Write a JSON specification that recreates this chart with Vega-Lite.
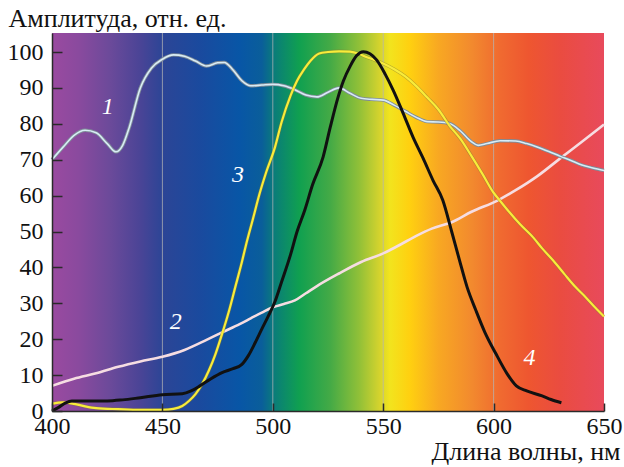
{
  "$schema": "https://vega.github.io/schema/vega-lite/v6.json",
  "width": 552,
  "height": 378,
  "autosize": {"type": "none"},
  "padding": {"left": 52, "top": 33, "right": 20, "bottom": 56},
  "background": "white",
  "config": {
    "view": {"stroke": null}
  },
  "datasets": {
    "curves": [
      {"series": "1", "nm": 400, "amp": 70}, {"series": "1", "nm": 405, "amp": 73.5}, {"series": "1", "nm": 410, "amp": 76.8}, {"series": "1", "nm": 415, "amp": 78.2}, {"series": "1", "nm": 420, "amp": 77.5}, {"series": "1", "nm": 425, "amp": 74.5}, {"series": "1", "nm": 429, "amp": 72.2}, {"series": "1", "nm": 432, "amp": 74}, {"series": "1", "nm": 435, "amp": 79}, {"series": "1", "nm": 440, "amp": 90}, {"series": "1", "nm": 445, "amp": 95.5}, {"series": "1", "nm": 450, "amp": 98}, {"series": "1", "nm": 455, "amp": 99.2}, {"series": "1", "nm": 460, "amp": 98.8}, {"series": "1", "nm": 465, "amp": 97.5}, {"series": "1", "nm": 470, "amp": 96.1}, {"series": "1", "nm": 475, "amp": 97}, {"series": "1", "nm": 478, "amp": 97.1}, {"series": "1", "nm": 482, "amp": 95}, {"series": "1", "nm": 486, "amp": 92}, {"series": "1", "nm": 490, "amp": 90.6}, {"series": "1", "nm": 495, "amp": 90.8}, {"series": "1", "nm": 500, "amp": 91}, {"series": "1", "nm": 505, "amp": 90.6}, {"series": "1", "nm": 510, "amp": 89.5}, {"series": "1", "nm": 515, "amp": 88}, {"series": "1", "nm": 520, "amp": 87.5}, {"series": "1", "nm": 525, "amp": 88.8}, {"series": "1", "nm": 530, "amp": 90}, {"series": "1", "nm": 535, "amp": 88.5}, {"series": "1", "nm": 540, "amp": 87.1}, {"series": "1", "nm": 545, "amp": 86.8}, {"series": "1", "nm": 550, "amp": 86.6}, {"series": "1", "nm": 555, "amp": 85.2}, {"series": "1", "nm": 560, "amp": 83.5}, {"series": "1", "nm": 565, "amp": 81.8}, {"series": "1", "nm": 570, "amp": 80.6}, {"series": "1", "nm": 575, "amp": 80.5}, {"series": "1", "nm": 580, "amp": 80.1}, {"series": "1", "nm": 585, "amp": 78}, {"series": "1", "nm": 590, "amp": 75}, {"series": "1", "nm": 593, "amp": 74}, {"series": "1", "nm": 597, "amp": 74.5}, {"series": "1", "nm": 603, "amp": 75.3}, {"series": "1", "nm": 610, "amp": 75.2}, {"series": "1", "nm": 615, "amp": 74.5}, {"series": "1", "nm": 620, "amp": 73.5}, {"series": "1", "nm": 625, "amp": 72.3}, {"series": "1", "nm": 630, "amp": 71}, {"series": "1", "nm": 635, "amp": 69.8}, {"series": "1", "nm": 640, "amp": 68.5}, {"series": "1", "nm": 645, "amp": 67.7}, {"series": "1", "nm": 650, "amp": 67},
      {"series": "2", "nm": 400, "amp": 7}, {"series": "2", "nm": 410, "amp": 9}, {"series": "2", "nm": 420, "amp": 10.5}, {"series": "2", "nm": 430, "amp": 12.3}, {"series": "2", "nm": 440, "amp": 13.8}, {"series": "2", "nm": 450, "amp": 15.1}, {"series": "2", "nm": 460, "amp": 17}, {"series": "2", "nm": 470, "amp": 19.8}, {"series": "2", "nm": 477, "amp": 21.9}, {"series": "2", "nm": 485, "amp": 24.2}, {"series": "2", "nm": 490, "amp": 25.8}, {"series": "2", "nm": 495, "amp": 27.4}, {"series": "2", "nm": 500, "amp": 28.9}, {"series": "2", "nm": 505, "amp": 29.8}, {"series": "2", "nm": 510, "amp": 30.8}, {"series": "2", "nm": 515, "amp": 32.8}, {"series": "2", "nm": 520, "amp": 34.8}, {"series": "2", "nm": 530, "amp": 38.3}, {"series": "2", "nm": 540, "amp": 41.5}, {"series": "2", "nm": 550, "amp": 43.9}, {"series": "2", "nm": 557, "amp": 46.1}, {"series": "2", "nm": 565, "amp": 48.8}, {"series": "2", "nm": 572, "amp": 50.8}, {"series": "2", "nm": 581, "amp": 52.6}, {"series": "2", "nm": 590, "amp": 55.5}, {"series": "2", "nm": 602, "amp": 58.7}, {"series": "2", "nm": 610, "amp": 61.5}, {"series": "2", "nm": 620, "amp": 65.5}, {"series": "2", "nm": 630, "amp": 70.3}, {"series": "2", "nm": 640, "amp": 75}, {"series": "2", "nm": 650, "amp": 79.8},
      {"series": "3", "nm": 400, "amp": 2}, {"series": "3", "nm": 405, "amp": 2.4}, {"series": "3", "nm": 410, "amp": 2}, {"series": "3", "nm": 415, "amp": 1.3}, {"series": "3", "nm": 420, "amp": 0.8}, {"series": "3", "nm": 430, "amp": 0.5}, {"series": "3", "nm": 440, "amp": 0.3}, {"series": "3", "nm": 450, "amp": 0.3}, {"series": "3", "nm": 455, "amp": 0.6}, {"series": "3", "nm": 459, "amp": 1.4}, {"series": "3", "nm": 462, "amp": 2.8}, {"series": "3", "nm": 465, "amp": 4.7}, {"series": "3", "nm": 468, "amp": 7.5}, {"series": "3", "nm": 471, "amp": 11.2}, {"series": "3", "nm": 474, "amp": 15.8}, {"series": "3", "nm": 477, "amp": 21.4}, {"series": "3", "nm": 480, "amp": 27.5}, {"series": "3", "nm": 483, "amp": 34.5}, {"series": "3", "nm": 486, "amp": 41.5}, {"series": "3", "nm": 488, "amp": 46.6}, {"series": "3", "nm": 491, "amp": 53.5}, {"series": "3", "nm": 494, "amp": 60.5}, {"series": "3", "nm": 497, "amp": 66.5}, {"series": "3", "nm": 501, "amp": 73.5}, {"series": "3", "nm": 504, "amp": 80.5}, {"series": "3", "nm": 508, "amp": 87.8}, {"series": "3", "nm": 511, "amp": 92}, {"series": "3", "nm": 514, "amp": 95}, {"series": "3", "nm": 517, "amp": 97.5}, {"series": "3", "nm": 521, "amp": 99.6}, {"series": "3", "nm": 525, "amp": 100}, {"series": "3", "nm": 530, "amp": 100.2}, {"series": "3", "nm": 535, "amp": 100.1}, {"series": "3", "nm": 539, "amp": 99.5}, {"series": "3", "nm": 542, "amp": 98.7}, {"series": "3", "nm": 546, "amp": 97.8}, {"series": "3", "nm": 550, "amp": 96.8}, {"series": "3", "nm": 555, "amp": 95.2}, {"series": "3", "nm": 560, "amp": 93.2}, {"series": "3", "nm": 565, "amp": 90.5}, {"series": "3", "nm": 570, "amp": 87.3}, {"series": "3", "nm": 575, "amp": 84}, {"series": "3", "nm": 580, "amp": 79.5}, {"series": "3", "nm": 585, "amp": 75.8}, {"series": "3", "nm": 590, "amp": 71}, {"series": "3", "nm": 595, "amp": 66}, {"series": "3", "nm": 600, "amp": 60.8}, {"series": "3", "nm": 603, "amp": 58.5}, {"series": "3", "nm": 607, "amp": 55.5}, {"series": "3", "nm": 612, "amp": 52}, {"series": "3", "nm": 618, "amp": 48.3}, {"series": "3", "nm": 622, "amp": 45.3}, {"series": "3", "nm": 627, "amp": 41.9}, {"series": "3", "nm": 632, "amp": 38.2}, {"series": "3", "nm": 637, "amp": 34.6}, {"series": "3", "nm": 642, "amp": 31.5}, {"series": "3", "nm": 646, "amp": 28.8}, {"series": "3", "nm": 650, "amp": 26.3},
      {"series": "4", "nm": 400, "amp": 0}, {"series": "4", "nm": 403, "amp": 1}, {"series": "4", "nm": 406, "amp": 2.2}, {"series": "4", "nm": 409, "amp": 2.8}, {"series": "4", "nm": 415, "amp": 2.8}, {"series": "4", "nm": 425, "amp": 2.8}, {"series": "4", "nm": 432, "amp": 3.1}, {"series": "4", "nm": 440, "amp": 3.7}, {"series": "4", "nm": 450, "amp": 4.5}, {"series": "4", "nm": 459, "amp": 4.8}, {"series": "4", "nm": 463, "amp": 5.6}, {"series": "4", "nm": 467, "amp": 7}, {"series": "4", "nm": 472, "amp": 9}, {"series": "4", "nm": 477, "amp": 10.7}, {"series": "4", "nm": 482, "amp": 11.8}, {"series": "4", "nm": 486, "amp": 13}, {"series": "4", "nm": 489, "amp": 15.5}, {"series": "4", "nm": 492, "amp": 19}, {"series": "4", "nm": 495, "amp": 22.8}, {"series": "4", "nm": 498, "amp": 26.5}, {"series": "4", "nm": 501, "amp": 30.5}, {"series": "4", "nm": 504, "amp": 36}, {"series": "4", "nm": 508, "amp": 43.5}, {"series": "4", "nm": 511, "amp": 50}, {"series": "4", "nm": 514.5, "amp": 56}, {"series": "4", "nm": 518, "amp": 63}, {"series": "4", "nm": 522.8, "amp": 70.8}, {"series": "4", "nm": 526, "amp": 79}, {"series": "4", "nm": 529.6, "amp": 87.5}, {"series": "4", "nm": 532, "amp": 92}, {"series": "4", "nm": 535, "amp": 96}, {"series": "4", "nm": 538, "amp": 99}, {"series": "4", "nm": 541, "amp": 100.1}, {"series": "4", "nm": 544, "amp": 99.5}, {"series": "4", "nm": 547, "amp": 97.8}, {"series": "4", "nm": 551, "amp": 93.7}, {"series": "4", "nm": 554.5, "amp": 89.4}, {"series": "4", "nm": 559, "amp": 83}, {"series": "4", "nm": 563.5, "amp": 76.3}, {"series": "4", "nm": 568, "amp": 70.5}, {"series": "4", "nm": 572.6, "amp": 64.2}, {"series": "4", "nm": 577, "amp": 58.7}, {"series": "4", "nm": 581, "amp": 50}, {"series": "4", "nm": 584.6, "amp": 41.9}, {"series": "4", "nm": 588, "amp": 34.5}, {"series": "4", "nm": 592, "amp": 28}, {"series": "4", "nm": 596, "amp": 22}, {"series": "4", "nm": 601, "amp": 16}, {"series": "4", "nm": 606, "amp": 10.5}, {"series": "4", "nm": 610.3, "amp": 7}, {"series": "4", "nm": 615, "amp": 5.6}, {"series": "4", "nm": 622, "amp": 4.2}, {"series": "4", "nm": 626, "amp": 3.2}, {"series": "4", "nm": 630.7, "amp": 2.3}
    ],
    "labels": [
      {"label": "1", "nm": 425.2, "amp": 84.6},
      {"label": "2", "nm": 456.1, "amp": 24.8},
      {"label": "3", "nm": 484.2, "amp": 65.8},
      {"label": "4", "nm": 616.3, "amp": 14.7}
    ],
    "grid": [
      {"nm": 450, "amp": 0, "amp2": 105.3},
      {"nm": 500, "amp": 0, "amp2": 105.3},
      {"nm": 550, "amp": 0, "amp2": 105.3},
      {"nm": 600, "amp": 0, "amp2": 105.3}
    ]
  },
  "encoding": {
    "x": {
      "field": "nm",
      "type": "quantitative",
      "scale": {"domain": [400, 650], "nice": false, "zero": false},
      "axis": {
        "values": [400, 450, 500, 550, 600, 650],
        "grid": false,
        "domain": true,
        "domainColor": "#2a2a2a",
        "domainWidth": 1.5,
        "ticks": true,
        "tickColor": "#2a2a2a",
        "tickWidth": 1.5,
        "tickSize": -8,
        "labelFont": "Liberation Serif",
        "labelFontSize": 24,
        "labelColor": "#111111",
        "labelPadding": 11,
        "labelFlush": false,
        "labelOverlap": false,
        "zindex": 1,
        "title": "Длина волны, нм",
        "titleFont": "Liberation Serif",
        "titleFontSize": 26,
        "titleFontWeight": "normal",
        "titleColor": "#111111",
        "titleAnchor": "end",
        "titleAlign": "right",
        "titleBaseline": "alphabetic",
        "titleX": 568,
        "titleY": 48
      }
    },
    "y": {
      "field": "amp",
      "type": "quantitative",
      "scale": {"domain": [0, 105.3], "nice": false, "zero": false},
      "axis": {
        "values": [0, 10, 20, 30, 40, 50, 60, 70, 80, 90, 100],
        "grid": false,
        "domain": true,
        "domainColor": "#2a2a2a",
        "domainWidth": 1.5,
        "ticks": true,
        "tickColor": "#2a2a2a",
        "tickWidth": 1.5,
        "tickSize": -10,
        "labelFont": "Liberation Serif",
        "labelFontSize": 24,
        "labelColor": "#111111",
        "labelPadding": 19,
        "labelOverlap": false,
        "zindex": 1,
        "title": "Амплитуда, отн. ед.",
        "titleFont": "Liberation Serif",
        "titleFontSize": 26,
        "titleFontWeight": "normal",
        "titleColor": "#111111",
        "titleAngle": 0,
        "titleAlign": "left",
        "titleBaseline": "alphabetic",
        "titleAnchor": "start",
        "titleX": -44,
        "titleY": -7
      }
    }
  },
  "layer": [
    {
      "data": {"values": [{"nm": 400, "nm2": 650, "amp": 0, "amp2": 105.3}]},
      "mark": {
        "type": "rect",
        "color": {
          "gradient": "linear",
          "x1": 0, "y1": 0, "x2": 1, "y2": 0,
          "stops": [
            {"offset": 0, "color": "#9a4aa0"},
            {"offset": 0.048, "color": "#8a4a9e"},
            {"offset": 0.104, "color": "#6c4a9a"},
            {"offset": 0.16, "color": "#4a4496"},
            {"offset": 0.2, "color": "#2c4596"},
            {"offset": 0.268, "color": "#1a4a9e"},
            {"offset": 0.34, "color": "#0856a6"},
            {"offset": 0.38, "color": "#0a5e9a"},
            {"offset": 0.404, "color": "#0a7e78"},
            {"offset": 0.448, "color": "#10a050"},
            {"offset": 0.504, "color": "#44aa46"},
            {"offset": 0.556, "color": "#90c038"},
            {"offset": 0.592, "color": "#d2d22e"},
            {"offset": 0.612, "color": "#f2e41e"},
            {"offset": 0.648, "color": "#ffd010"},
            {"offset": 0.7, "color": "#f8a822"},
            {"offset": 0.76, "color": "#f28a2e"},
            {"offset": 0.812, "color": "#f06a30"},
            {"offset": 0.864, "color": "#ee5630"},
            {"offset": 0.92, "color": "#ea4c40"},
            {"offset": 1, "color": "#e84a5c"}
          ]
        }
      },
      "encoding": {
        "x2": {"field": "nm2"},
        "y2": {"field": "amp2"}
      }
    },
    {
      "data": {"name": "grid"},
      "mark": {"type": "rule", "color": "#b4b4b4", "opacity": 0.75, "strokeWidth": 1},
      "encoding": {"y2": {"field": "amp2"}}
    },
    {
      "data": {"name": "curves"},
      "transform": [{"filter": "datum.series === '2'"}],
      "mark": {"type": "line", "interpolate": "monotone", "color": "#f6dde2", "strokeWidth": 2.6}
    },
    {
      "data": {"name": "curves"},
      "transform": [{"filter": "datum.series === '1'"}],
      "mark": {"type": "line", "interpolate": "monotone", "color": "#7f8c98", "strokeWidth": 3.4}
    },
    {
      "data": {"name": "curves"},
      "transform": [{"filter": "datum.series === '1'"}],
      "mark": {"type": "line", "interpolate": "monotone", "color": "#d8ecf6", "strokeWidth": 1.6}
    },
    {
      "data": {"name": "curves"},
      "transform": [{"filter": "datum.series === '3'"}],
      "mark": {"type": "line", "interpolate": "monotone", "color": "#8a8030", "strokeWidth": 3.4, "opacity": 0.55}
    },
    {
      "data": {"name": "curves"},
      "transform": [{"filter": "datum.series === '3'"}],
      "mark": {"type": "line", "interpolate": "monotone", "color": "#f8ec3a", "strokeWidth": 2.2}
    },
    {
      "data": {"name": "curves"},
      "transform": [{"filter": "datum.series === '4'"}],
      "mark": {"type": "line", "interpolate": "monotone", "color": "#111111", "strokeWidth": 3}
    },
    {
      "data": {"name": "labels"},
      "mark": {"type": "text", "font": "Liberation Serif", "fontStyle": "italic", "fontSize": 24, "color": "white", "align": "center", "baseline": "middle"},
      "encoding": {"text": {"field": "label"}}
    }
  ]
}
